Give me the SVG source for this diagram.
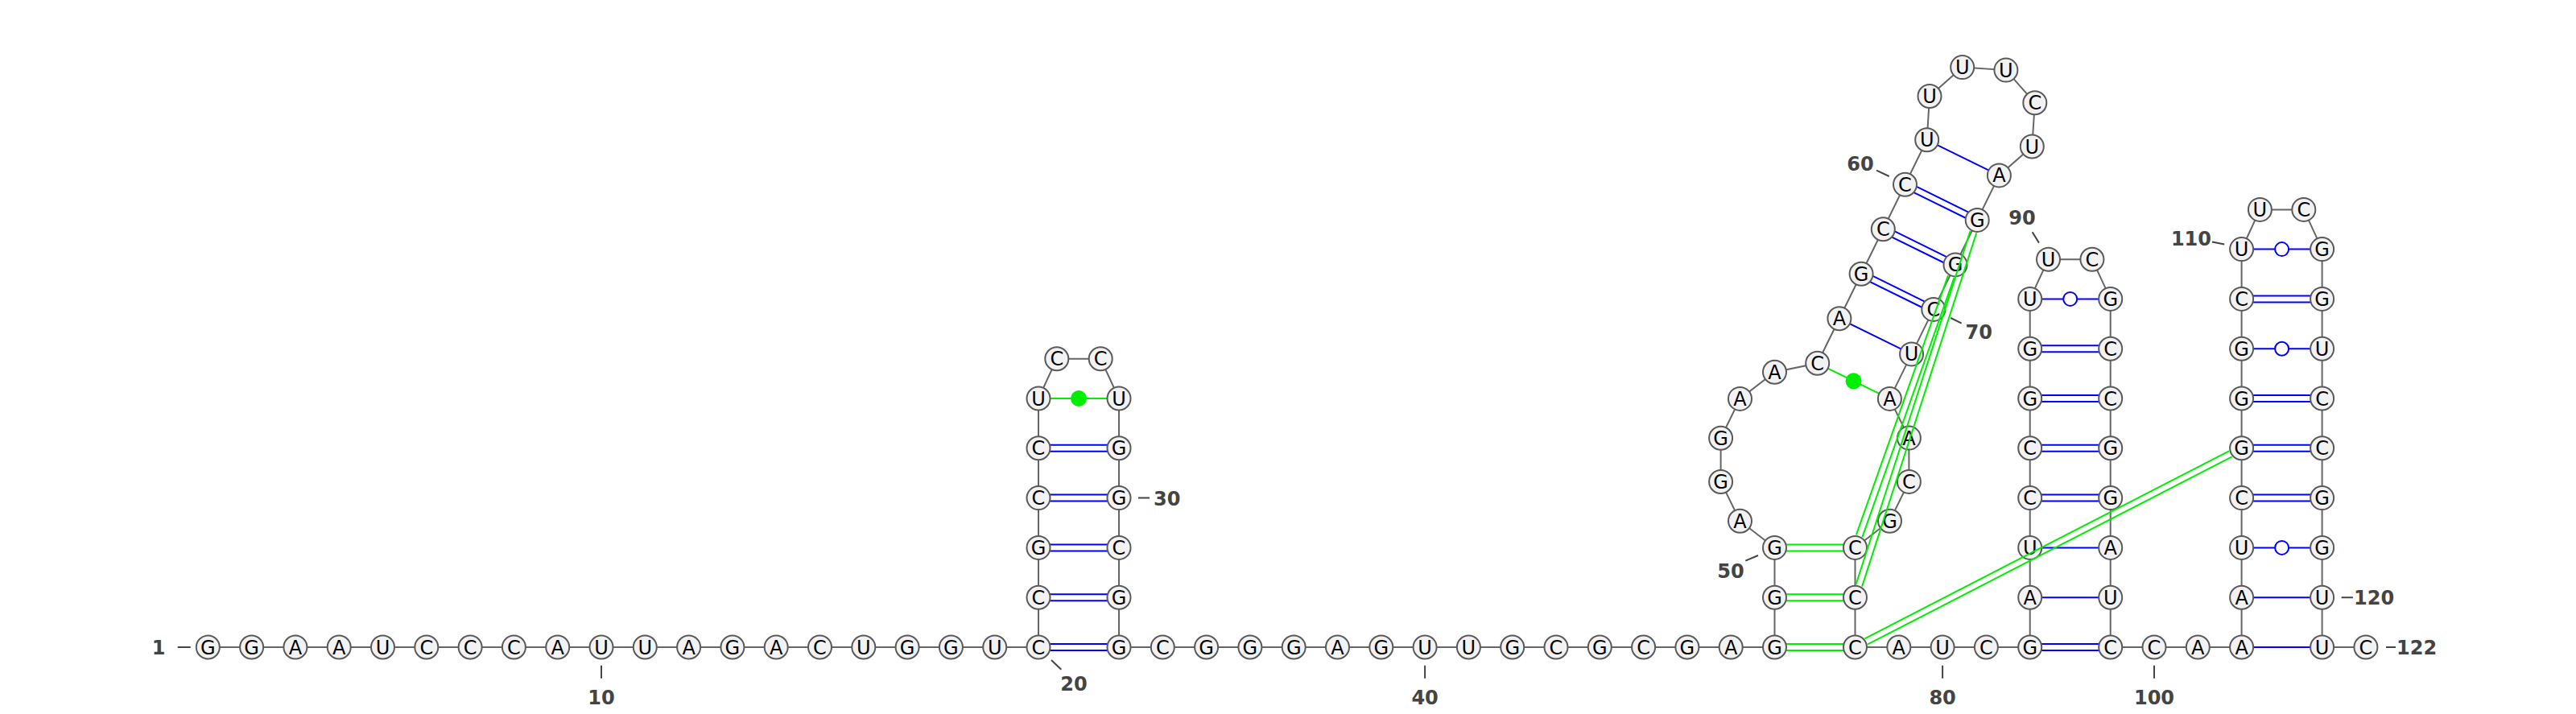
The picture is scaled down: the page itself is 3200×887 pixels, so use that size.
<svg xmlns="http://www.w3.org/2000/svg" width="3200" height="887" viewBox="0 0 3200 887">
<style>
.bb{fill:none;stroke:#666;stroke-width:2}
.bp{fill:none;stroke:#0000ff;stroke-width:2}
.gp{fill:none;stroke:#00ee00;stroke-width:2}
.gu{fill:#fff;stroke:#0000ff;stroke-width:2}
.gd{fill:#00ee00;stroke:none}
.nt circle{fill:#f2f2f2;stroke:#5a5a5a;stroke-width:2}
.nt text{font-family:"DejaVu Sans","Liberation Sans",sans-serif;font-size:24px;fill:#000;text-anchor:middle}
.lb{font-family:"DejaVu Sans","Liberation Sans",sans-serif;font-size:24px;font-weight:bold;fill:#444}
.tk{stroke:#444;stroke-width:2;fill:none}
</style>
<rect width="3200" height="887" fill="#fff"/>
<g id="connectors">
<polyline class="bb" points="258.3,804 312.6,804 366.9,804 421.2,804 475.5,804 529.8,804 584.1,804 638.4,804 692.7,804 747,804 801.3,804 855.6,804 909.9,804 964.2,804 1018.5,804 1072.8,804 1127.1,804 1181.4,804 1235.7,804 1290,804 1290,742.2 1290,680.4 1290,618.6 1290,556.8 1290,495 1312.8,445.8 1367.2,445.8 1390,495 1390,556.8 1390,618.6 1390,680.4 1390,742.2 1390,804 1444.3,804 1498.6,804 1552.9,804 1607.2,804 1661.5,804 1715.8,804 1770.1,804 1824.4,804 1878.7,804 1933,804 1987.3,804 2041.6,804 2095.9,804 2150.2,804 2204.5,804 2204.5,742.2 2204.5,680.4 2161.5,647.2 2137.6,598.5 2137.6,544.2 2161.5,495.4 2204.5,462.2 2257.7,451.3 2284.9,395.8 2312.1,340.3 2339.3,284.8 2366.5,229.3 2393.7,173.8 2397,119.5 2437.7,83.6 2491.9,87.1 2527.8,127.8 2524.3,182 2483.4,217.9 2456.2,273.4 2429,328.9 2401.8,384.4 2374.6,439.9 2347.4,495.4 2371.4,544.1 2371.4,598.4 2347.5,647.2 2304.5,680.4 2304.5,742.2 2304.5,804 2358.8,804 2413.1,804 2467.4,804 2521.7,804 2521.7,742.2 2521.7,680.4 2521.7,618.6 2521.7,556.8 2521.7,495 2521.7,433.2 2521.7,371.4 2544.5,322.2 2598.9,322.2 2621.7,371.4 2621.7,433.2 2621.7,495 2621.7,556.8 2621.7,618.6 2621.7,680.4 2621.7,742.2 2621.7,804 2676,804 2730.3,804 2784.6,804 2784.6,742.2 2784.6,680.4 2784.6,618.6 2784.6,556.8 2784.6,495 2784.6,433.2 2784.6,371.4 2784.6,309.6 2807.4,260.4 2861.8,260.4 2884.6,309.6 2884.6,371.4 2884.6,433.2 2884.6,495 2884.6,556.8 2884.6,618.6 2884.6,680.4 2884.6,742.2 2884.6,804 2938.9,804"/>
<!-- hairpin 1 pairs -->
<path class="bp" d="M1290,800H1390M1290,808H1390M1290,738.2H1390M1290,746.2H1390M1290,676.4H1390M1290,684.4H1390M1290,614.6H1390M1290,622.6H1390M1290,552.8H1390M1290,560.8H1390"/>
<path class="gp" d="M1290,495H1390"/>
<circle class="gd" cx="1340" cy="495" r="10"/>
<!-- big structure pairs -->
<path class="gp" d="M2204.5,800H2304.5M2204.5,808H2304.5M2204.5,738.2H2304.5M2204.5,746.2H2304.5M2204.5,676.4H2304.5M2204.5,684.4H2304.5"/>
<path class="gp" d="M2257.7,451.3L2347.4,495.4"/>
<circle class="gd" cx="2302.55" cy="473.35" r="10"/>
<path class="bp" d="M2284.9,395.8L2374.6,439.9M2393.7,173.8L2483.4,217.9"/>
<path class="bp" d="M2310.34,343.89L2400.04,387.99M2313.86,336.71L2403.56,380.81M2337.54,288.39L2427.24,332.49M2341.06,281.21L2430.76,325.31M2364.74,232.89L2454.44,276.99M2368.26,225.71L2457.96,269.81"/>
<!-- stem 3 pairs -->
<path class="bp" d="M2521.7,800H2621.7M2521.7,808H2621.7M2521.7,742.2H2621.7M2521.7,680.4H2621.7M2521.7,614.6H2621.7M2521.7,622.6H2621.7M2521.7,552.8H2621.7M2521.7,560.8H2621.7M2521.7,491H2621.7M2521.7,499H2621.7M2521.7,429.2H2621.7M2521.7,437.2H2621.7M2521.7,371.4H2621.7"/>
<circle class="gu" cx="2571.7" cy="371.4" r="8.5"/>
<!-- stem 4 pairs -->
<path class="bp" d="M2784.6,804H2884.6M2784.6,742.2H2884.6M2784.6,680.4H2884.6M2784.6,614.6H2884.6M2784.6,622.6H2884.6M2784.6,552.8H2884.6M2784.6,560.8H2884.6M2784.6,491H2884.6M2784.6,499H2884.6M2784.6,433.2H2884.6M2784.6,367.4H2884.6M2784.6,375.4H2884.6M2784.6,309.6H2884.6"/>
<circle class="gu" cx="2834.6" cy="680.4" r="8.5"/>
<circle class="gu" cx="2834.6" cy="433.2" r="8.5"/>
<circle class="gu" cx="2834.6" cy="309.6" r="8.5"/>
</g>
<g id="nodes">
<g id="n1" class="nt"><circle cx="258.3" cy="804" r="14.5"/><text x="258.3" y="812.5">G</text></g>
<g id="n2" class="nt"><circle cx="312.6" cy="804" r="14.5"/><text x="312.6" y="812.5">G</text></g>
<g id="n3" class="nt"><circle cx="366.9" cy="804" r="14.5"/><text x="366.9" y="812.5">A</text></g>
<g id="n4" class="nt"><circle cx="421.2" cy="804" r="14.5"/><text x="421.2" y="812.5">A</text></g>
<g id="n5" class="nt"><circle cx="475.5" cy="804" r="14.5"/><text x="475.5" y="812.5">U</text></g>
<g id="n6" class="nt"><circle cx="529.8" cy="804" r="14.5"/><text x="529.8" y="812.5">C</text></g>
<g id="n7" class="nt"><circle cx="584.1" cy="804" r="14.5"/><text x="584.1" y="812.5">C</text></g>
<g id="n8" class="nt"><circle cx="638.4" cy="804" r="14.5"/><text x="638.4" y="812.5">C</text></g>
<g id="n9" class="nt"><circle cx="692.7" cy="804" r="14.5"/><text x="692.7" y="812.5">A</text></g>
<g id="n10" class="nt"><circle cx="747" cy="804" r="14.5"/><text x="747" y="812.5">U</text></g>
<g id="n11" class="nt"><circle cx="801.3" cy="804" r="14.5"/><text x="801.3" y="812.5">U</text></g>
<g id="n12" class="nt"><circle cx="855.6" cy="804" r="14.5"/><text x="855.6" y="812.5">A</text></g>
<g id="n13" class="nt"><circle cx="909.9" cy="804" r="14.5"/><text x="909.9" y="812.5">G</text></g>
<g id="n14" class="nt"><circle cx="964.2" cy="804" r="14.5"/><text x="964.2" y="812.5">A</text></g>
<g id="n15" class="nt"><circle cx="1018.5" cy="804" r="14.5"/><text x="1018.5" y="812.5">C</text></g>
<g id="n16" class="nt"><circle cx="1072.8" cy="804" r="14.5"/><text x="1072.8" y="812.5">U</text></g>
<g id="n17" class="nt"><circle cx="1127.1" cy="804" r="14.5"/><text x="1127.1" y="812.5">G</text></g>
<g id="n18" class="nt"><circle cx="1181.4" cy="804" r="14.5"/><text x="1181.4" y="812.5">G</text></g>
<g id="n19" class="nt"><circle cx="1235.7" cy="804" r="14.5"/><text x="1235.7" y="812.5">U</text></g>
<g id="n20" class="nt"><circle cx="1290" cy="804" r="14.5"/><text x="1290" y="812.5">C</text></g>
<g id="n21" class="nt"><circle cx="1290" cy="742.2" r="14.5"/><text x="1290" y="750.7">C</text></g>
<g id="n22" class="nt"><circle cx="1290" cy="680.4" r="14.5"/><text x="1290" y="688.9">G</text></g>
<g id="n23" class="nt"><circle cx="1290" cy="618.6" r="14.5"/><text x="1290" y="627.1">C</text></g>
<g id="n24" class="nt"><circle cx="1290" cy="556.8" r="14.5"/><text x="1290" y="565.3">C</text></g>
<g id="n25" class="nt"><circle cx="1290" cy="495" r="14.5"/><text x="1290" y="503.5">U</text></g>
<g id="n26" class="nt"><circle cx="1312.8" cy="445.8" r="14.5"/><text x="1312.8" y="454.3">C</text></g>
<g id="n27" class="nt"><circle cx="1367.2" cy="445.8" r="14.5"/><text x="1367.2" y="454.3">C</text></g>
<g id="n28" class="nt"><circle cx="1390" cy="495" r="14.5"/><text x="1390" y="503.5">U</text></g>
<g id="n29" class="nt"><circle cx="1390" cy="556.8" r="14.5"/><text x="1390" y="565.3">G</text></g>
<g id="n30" class="nt"><circle cx="1390" cy="618.6" r="14.5"/><text x="1390" y="627.1">G</text></g>
<g id="n31" class="nt"><circle cx="1390" cy="680.4" r="14.5"/><text x="1390" y="688.9">C</text></g>
<g id="n32" class="nt"><circle cx="1390" cy="742.2" r="14.5"/><text x="1390" y="750.7">G</text></g>
<g id="n33" class="nt"><circle cx="1390" cy="804" r="14.5"/><text x="1390" y="812.5">G</text></g>
<g id="n34" class="nt"><circle cx="1444.3" cy="804" r="14.5"/><text x="1444.3" y="812.5">C</text></g>
<g id="n35" class="nt"><circle cx="1498.6" cy="804" r="14.5"/><text x="1498.6" y="812.5">G</text></g>
<g id="n36" class="nt"><circle cx="1552.9" cy="804" r="14.5"/><text x="1552.9" y="812.5">G</text></g>
<g id="n37" class="nt"><circle cx="1607.2" cy="804" r="14.5"/><text x="1607.2" y="812.5">G</text></g>
<g id="n38" class="nt"><circle cx="1661.5" cy="804" r="14.5"/><text x="1661.5" y="812.5">A</text></g>
<g id="n39" class="nt"><circle cx="1715.8" cy="804" r="14.5"/><text x="1715.8" y="812.5">G</text></g>
<g id="n40" class="nt"><circle cx="1770.1" cy="804" r="14.5"/><text x="1770.1" y="812.5">U</text></g>
<g id="n41" class="nt"><circle cx="1824.4" cy="804" r="14.5"/><text x="1824.4" y="812.5">U</text></g>
<g id="n42" class="nt"><circle cx="1878.7" cy="804" r="14.5"/><text x="1878.7" y="812.5">G</text></g>
<g id="n43" class="nt"><circle cx="1933" cy="804" r="14.5"/><text x="1933" y="812.5">C</text></g>
<g id="n44" class="nt"><circle cx="1987.3" cy="804" r="14.5"/><text x="1987.3" y="812.5">G</text></g>
<g id="n45" class="nt"><circle cx="2041.6" cy="804" r="14.5"/><text x="2041.6" y="812.5">C</text></g>
<g id="n46" class="nt"><circle cx="2095.9" cy="804" r="14.5"/><text x="2095.9" y="812.5">G</text></g>
<g id="n47" class="nt"><circle cx="2150.2" cy="804" r="14.5"/><text x="2150.2" y="812.5">A</text></g>
<g id="n48" class="nt"><circle cx="2204.5" cy="804" r="14.5"/><text x="2204.5" y="812.5">G</text></g>
<g id="n49" class="nt"><circle cx="2204.5" cy="742.2" r="14.5"/><text x="2204.5" y="750.7">G</text></g>
<g id="n50" class="nt"><circle cx="2204.5" cy="680.4" r="14.5"/><text x="2204.5" y="688.9">G</text></g>
<g id="n51" class="nt"><circle cx="2161.5" cy="647.2" r="14.5"/><text x="2161.5" y="655.7">A</text></g>
<g id="n52" class="nt"><circle cx="2137.6" cy="598.5" r="14.5"/><text x="2137.6" y="607">G</text></g>
<g id="n53" class="nt"><circle cx="2137.6" cy="544.2" r="14.5"/><text x="2137.6" y="552.7">G</text></g>
<g id="n54" class="nt"><circle cx="2161.5" cy="495.4" r="14.5"/><text x="2161.5" y="503.9">A</text></g>
<g id="n55" class="nt"><circle cx="2204.5" cy="462.2" r="14.5"/><text x="2204.5" y="470.7">A</text></g>
<g id="n56" class="nt"><circle cx="2257.7" cy="451.3" r="14.5"/><text x="2257.7" y="459.8">C</text></g>
<g id="n57" class="nt"><circle cx="2284.9" cy="395.8" r="14.5"/><text x="2284.9" y="404.3">A</text></g>
<g id="n58" class="nt"><circle cx="2312.1" cy="340.3" r="14.5"/><text x="2312.1" y="348.8">G</text></g>
<g id="n59" class="nt"><circle cx="2339.3" cy="284.8" r="14.5"/><text x="2339.3" y="293.3">C</text></g>
<g id="n60" class="nt"><circle cx="2366.5" cy="229.3" r="14.5"/><text x="2366.5" y="237.8">C</text></g>
<g id="n61" class="nt"><circle cx="2393.7" cy="173.8" r="14.5"/><text x="2393.7" y="182.3">U</text></g>
<g id="n62" class="nt"><circle cx="2397" cy="119.5" r="14.5"/><text x="2397" y="128">U</text></g>
<g id="n63" class="nt"><circle cx="2437.7" cy="83.6" r="14.5"/><text x="2437.7" y="92.1">U</text></g>
<g id="n64" class="nt"><circle cx="2491.9" cy="87.1" r="14.5"/><text x="2491.9" y="95.6">U</text></g>
<g id="n65" class="nt"><circle cx="2527.8" cy="127.8" r="14.5"/><text x="2527.8" y="136.3">C</text></g>
<g id="n66" class="nt"><circle cx="2524.3" cy="182" r="14.5"/><text x="2524.3" y="190.5">U</text></g>
<g id="n67" class="nt"><circle cx="2483.4" cy="217.9" r="14.5"/><text x="2483.4" y="226.4">A</text></g>
<g id="n68" class="nt"><circle cx="2456.2" cy="273.4" r="14.5"/><text x="2456.2" y="281.9">G</text></g>
<g id="n69" class="nt"><circle cx="2429" cy="328.9" r="14.5"/><text x="2429" y="337.4">G</text></g>
<g id="n70" class="nt"><circle cx="2401.8" cy="384.4" r="14.5"/><text x="2401.8" y="392.9">C</text></g>
<g id="n71" class="nt"><circle cx="2374.6" cy="439.9" r="14.5"/><text x="2374.6" y="448.4">U</text></g>
<g id="n72" class="nt"><circle cx="2347.4" cy="495.4" r="14.5"/><text x="2347.4" y="503.9">A</text></g>
<g id="n73" class="nt"><circle cx="2371.4" cy="544.1" r="14.5"/><text x="2371.4" y="552.6">A</text></g>
<g id="n74" class="nt"><circle cx="2371.4" cy="598.4" r="14.5"/><text x="2371.4" y="606.9">C</text></g>
<g id="n75" class="nt"><circle cx="2347.5" cy="647.2" r="14.5"/><text x="2347.5" y="655.7">G</text></g>
<g id="n76" class="nt"><circle cx="2304.5" cy="680.4" r="14.5"/><text x="2304.5" y="688.9">C</text></g>
<g id="n77" class="nt"><circle cx="2304.5" cy="742.2" r="14.5"/><text x="2304.5" y="750.7">C</text></g>
<g id="n78" class="nt"><circle cx="2304.5" cy="804" r="14.5"/><text x="2304.5" y="812.5">C</text></g>
<g id="n79" class="nt"><circle cx="2358.8" cy="804" r="14.5"/><text x="2358.8" y="812.5">A</text></g>
<g id="n80" class="nt"><circle cx="2413.1" cy="804" r="14.5"/><text x="2413.1" y="812.5">U</text></g>
<g id="n81" class="nt"><circle cx="2467.4" cy="804" r="14.5"/><text x="2467.4" y="812.5">C</text></g>
<g id="n82" class="nt"><circle cx="2521.7" cy="804" r="14.5"/><text x="2521.7" y="812.5">G</text></g>
<g id="n83" class="nt"><circle cx="2521.7" cy="742.2" r="14.5"/><text x="2521.7" y="750.7">A</text></g>
<g id="n84" class="nt"><circle cx="2521.7" cy="680.4" r="14.5"/><text x="2521.7" y="688.9">U</text></g>
<g id="n85" class="nt"><circle cx="2521.7" cy="618.6" r="14.5"/><text x="2521.7" y="627.1">C</text></g>
<g id="n86" class="nt"><circle cx="2521.7" cy="556.8" r="14.5"/><text x="2521.7" y="565.3">C</text></g>
<g id="n87" class="nt"><circle cx="2521.7" cy="495" r="14.5"/><text x="2521.7" y="503.5">G</text></g>
<g id="n88" class="nt"><circle cx="2521.7" cy="433.2" r="14.5"/><text x="2521.7" y="441.7">G</text></g>
<g id="n89" class="nt"><circle cx="2521.7" cy="371.4" r="14.5"/><text x="2521.7" y="379.9">U</text></g>
<g id="n90" class="nt"><circle cx="2544.5" cy="322.2" r="14.5"/><text x="2544.5" y="330.7">U</text></g>
<g id="n91" class="nt"><circle cx="2598.9" cy="322.2" r="14.5"/><text x="2598.9" y="330.7">C</text></g>
<g id="n92" class="nt"><circle cx="2621.7" cy="371.4" r="14.5"/><text x="2621.7" y="379.9">G</text></g>
<g id="n93" class="nt"><circle cx="2621.7" cy="433.2" r="14.5"/><text x="2621.7" y="441.7">C</text></g>
<g id="n94" class="nt"><circle cx="2621.7" cy="495" r="14.5"/><text x="2621.7" y="503.5">C</text></g>
<g id="n95" class="nt"><circle cx="2621.7" cy="556.8" r="14.5"/><text x="2621.7" y="565.3">G</text></g>
<g id="n96" class="nt"><circle cx="2621.7" cy="618.6" r="14.5"/><text x="2621.7" y="627.1">G</text></g>
<g id="n97" class="nt"><circle cx="2621.7" cy="680.4" r="14.5"/><text x="2621.7" y="688.9">A</text></g>
<g id="n98" class="nt"><circle cx="2621.7" cy="742.2" r="14.5"/><text x="2621.7" y="750.7">U</text></g>
<g id="n99" class="nt"><circle cx="2621.7" cy="804" r="14.5"/><text x="2621.7" y="812.5">C</text></g>
<g id="n100" class="nt"><circle cx="2676" cy="804" r="14.5"/><text x="2676" y="812.5">C</text></g>
<g id="n101" class="nt"><circle cx="2730.3" cy="804" r="14.5"/><text x="2730.3" y="812.5">A</text></g>
<g id="n102" class="nt"><circle cx="2784.6" cy="804" r="14.5"/><text x="2784.6" y="812.5">A</text></g>
<g id="n103" class="nt"><circle cx="2784.6" cy="742.2" r="14.5"/><text x="2784.6" y="750.7">A</text></g>
<g id="n104" class="nt"><circle cx="2784.6" cy="680.4" r="14.5"/><text x="2784.6" y="688.9">U</text></g>
<g id="n105" class="nt"><circle cx="2784.6" cy="618.6" r="14.5"/><text x="2784.6" y="627.1">C</text></g>
<g id="n106" class="nt"><circle cx="2784.6" cy="556.8" r="14.5"/><text x="2784.6" y="565.3">G</text></g>
<g id="n107" class="nt"><circle cx="2784.6" cy="495" r="14.5"/><text x="2784.6" y="503.5">G</text></g>
<g id="n108" class="nt"><circle cx="2784.6" cy="433.2" r="14.5"/><text x="2784.6" y="441.7">G</text></g>
<g id="n109" class="nt"><circle cx="2784.6" cy="371.4" r="14.5"/><text x="2784.6" y="379.9">C</text></g>
<g id="n110" class="nt"><circle cx="2784.6" cy="309.6" r="14.5"/><text x="2784.6" y="318.1">U</text></g>
<g id="n111" class="nt"><circle cx="2807.4" cy="260.4" r="14.5"/><text x="2807.4" y="268.9">U</text></g>
<g id="n112" class="nt"><circle cx="2861.8" cy="260.4" r="14.5"/><text x="2861.8" y="268.9">C</text></g>
<g id="n113" class="nt"><circle cx="2884.6" cy="309.6" r="14.5"/><text x="2884.6" y="318.1">G</text></g>
<g id="n114" class="nt"><circle cx="2884.6" cy="371.4" r="14.5"/><text x="2884.6" y="379.9">G</text></g>
<g id="n115" class="nt"><circle cx="2884.6" cy="433.2" r="14.5"/><text x="2884.6" y="441.7">U</text></g>
<g id="n116" class="nt"><circle cx="2884.6" cy="495" r="14.5"/><text x="2884.6" y="503.5">C</text></g>
<g id="n117" class="nt"><circle cx="2884.6" cy="556.8" r="14.5"/><text x="2884.6" y="565.3">C</text></g>
<g id="n118" class="nt"><circle cx="2884.6" cy="618.6" r="14.5"/><text x="2884.6" y="627.1">G</text></g>
<g id="n119" class="nt"><circle cx="2884.6" cy="680.4" r="14.5"/><text x="2884.6" y="688.9">G</text></g>
<g id="n120" class="nt"><circle cx="2884.6" cy="742.2" r="14.5"/><text x="2884.6" y="750.7">U</text></g>
<g id="n121" class="nt"><circle cx="2884.6" cy="804" r="14.5"/><text x="2884.6" y="812.5">U</text></g>
<g id="n122" class="nt"><circle cx="2938.9" cy="804" r="14.5"/><text x="2938.9" y="812.5">C</text></g>
</g>
<g id="pseudoknots">
<path class="gp" d="M2455.24,289.38L2313.08,728.68M2447.62,286.92L2305.46,726.22"/>
<path class="gp" d="M2427.6,344.85L2313.45,667.13M2420.06,342.17L2305.91,664.45"/>
<path class="gp" d="M2772.65,567.46L2320.11,800.46M2768.99,560.34L2316.45,793.34"/>
</g>
<g id="labels">
<path class="tk" d="M220.7,804H236.7M747,826.7V842.7M1306,820L1318.3,831.7M1414,618.6H1428M1770.1,826.7V842.7M2168.3,696.7L2184,690M2331,211.7L2346.7,219M2423.3,395L2436.7,401.7M2413.1,826.7V842.7M2524.6,288.3L2532.9,301.6M2676,826.7V842.7M2748,300.4L2763.2,303.6M2908.6,742.2H2922.9M2964,804H2976"/>
<text class="lb" x="205.5" y="813" text-anchor="end">1</text>
<text class="lb" x="747" y="875" text-anchor="middle">10</text>
<text class="lb" x="1334" y="858" text-anchor="middle">20</text>
<text class="lb" x="1433" y="627.5">30</text>
<text class="lb" x="1770.1" y="875" text-anchor="middle">40</text>
<text class="lb" x="2150" y="717.5" text-anchor="middle">50</text>
<text class="lb" x="2311" y="211.5" text-anchor="middle">60</text>
<text class="lb" x="2458.3" y="420.5" text-anchor="middle">70</text>
<text class="lb" x="2413.1" y="875" text-anchor="middle">80</text>
<text class="lb" x="2512" y="279" text-anchor="middle">90</text>
<text class="lb" x="2676" y="875" text-anchor="middle">100</text>
<text class="lb" x="2747" y="305" text-anchor="end">110</text>
<text class="lb" x="2924" y="751">120</text>
<text class="lb" x="2977" y="813">122</text>
</g>
</svg>
